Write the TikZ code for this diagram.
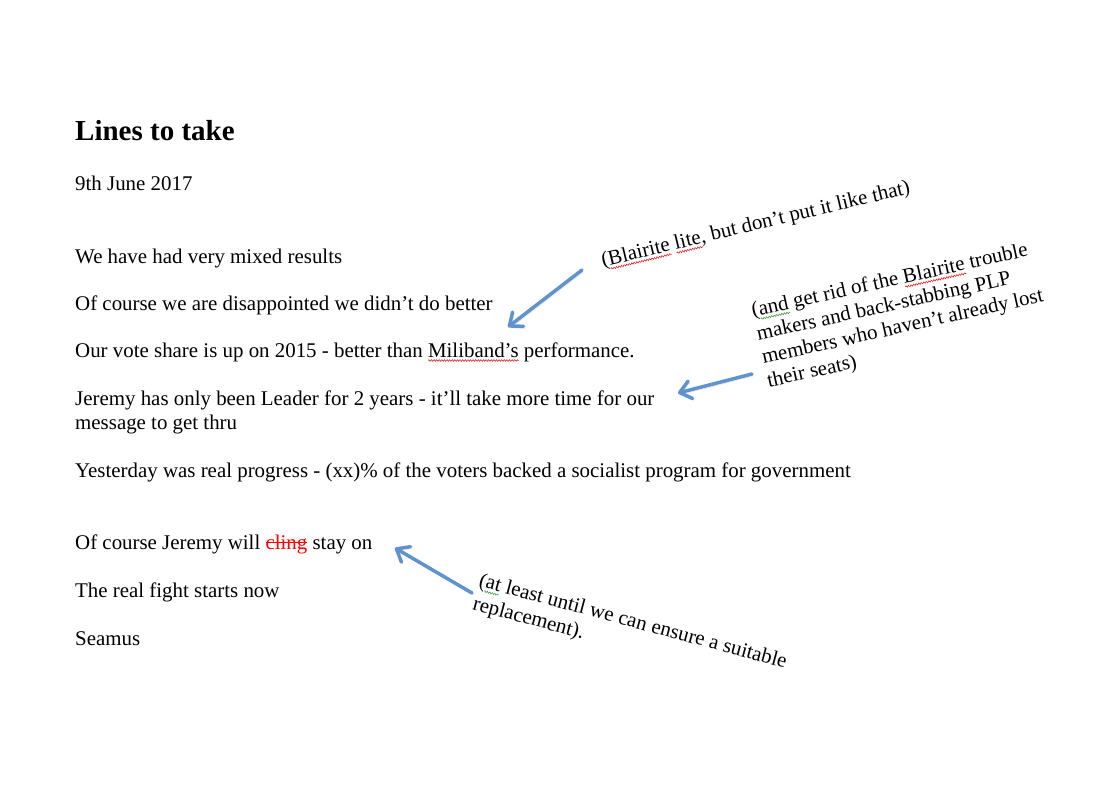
\documentclass[tikz,border=0pt]{standalone}
\usepackage{fontspec}
\setmainfont{Liberation Serif}
\usepackage{xcolor}
\usetikzlibrary{arrows.meta}
\usetikzlibrary{decorations.pathmorphing}

\definecolor{arrowblue}{RGB}{96,146,206}
\definecolor{spellred}{RGB}{225,35,35}
\definecolor{spellgreen}{RGB}{70,160,70}

% word with a spell-check wave under it
\newcommand\spellwave[2]{\tikz[baseline=(w.base)]{\node[inner sep=0pt, outer sep=0pt, anchor=base west] (w) {#2};
	\draw[overlay, #1, line width=0.6pt, decorate, decoration={snake, amplitude=0.8pt, segment length=2.6pt}] ([yshift=-3.5pt]w.base west) -- ([yshift=-3.5pt]w.base east);}}
% word struck through
\newcommand\struck[1]{\textcolor{red}{\setbox0\hbox{#1}\rlap{\rule[0.28em]{\wd0}{0.06em}}\box0}}

\begin{document}
\begin{tikzpicture}[x=1pt,y=-1pt,
		textline/.style={anchor=base west, inner sep=0pt, align=left, font=\fontsize{20.9}{24}\selectfont},
		pointer/.style={draw=arrowblue, line width=3.5pt, line cap=round, -{Straight Barb[length=11pt,width=18pt,round]},
			preaction={draw=black, draw opacity=0.12, transform canvas={shift={(1.5pt,-2pt)}}}}]
			\useasboundingbox[fill=white] (0,0) rectangle (1100,788);

			\node[textline, font=\fontsize{29}{32}\selectfont\bfseries] (title) at (75,140) {Lines to take};
			\node[textline] (date) at (75,190) {9th June 2017};
			\node[textline] (mixed) at (75,263) {We have had very mixed results};
			\node[textline] (better) at (75,310) {Of course we are disappointed we didn’t do better};
			\node[textline] (share) at (75,357) {Our vote share is up on 2015 - better than \spellwave{spellred}{Miliband’s} performance.};
			% base of a wrapped text is its last line
			\node[textline] (leader) at (75,429) {Jeremy has only been Leader for 2 years - it’ll take more time for our\\message to get thru};
			\node[textline] (progress) at (75,477) {Yesterday was real progress - (xx)\% of the voters backed a socialist program for government};
			\node[textline] (stay) at (75,549) {Of course Jeremy will \struck{cling} stay on};
			\node[textline] (fight) at (75,597) {The real fight starts now};
			\node[textline] (seamus) at (75,645) {Seamus};

			% notes in the margin
			\node[textline, rotate=13.5] (lite) at (603,267) {(\spellwave{spellred}{Blairite} \spellwave{spellred}{lite}, but don’t put it like that)};
			\node[textline, rotate=12.5] (riddance) at (768.6,387.3) {(\spellwave{spellgreen}{and} get rid of the \spellwave{spellred}{Blairite} trouble\\makers and back-stabbing PLP\\members who haven’t already lost\\their seats)};
			\node[textline, rotate=-15] (least) at (471.8,609.2) {(\spellwave{spellgreen}{at} least until we can ensure a suitable\\replacement).};

			\coordinate (tail1) at (582,270);
			\coordinate (tip1) at (508,327);
			\coordinate (tail2) at (752,374);
			\coordinate (tip2) at (678,393);
			\coordinate (tail3) at (472,593);
			\coordinate (tip3) at (395,548);
			\draw[pointer] (tail1) -- (tip1);
			\draw[pointer] (tail2) -- (tip2);
			\draw[pointer] (tail3) -- (tip3);
		\end{tikzpicture}
\end{document}
